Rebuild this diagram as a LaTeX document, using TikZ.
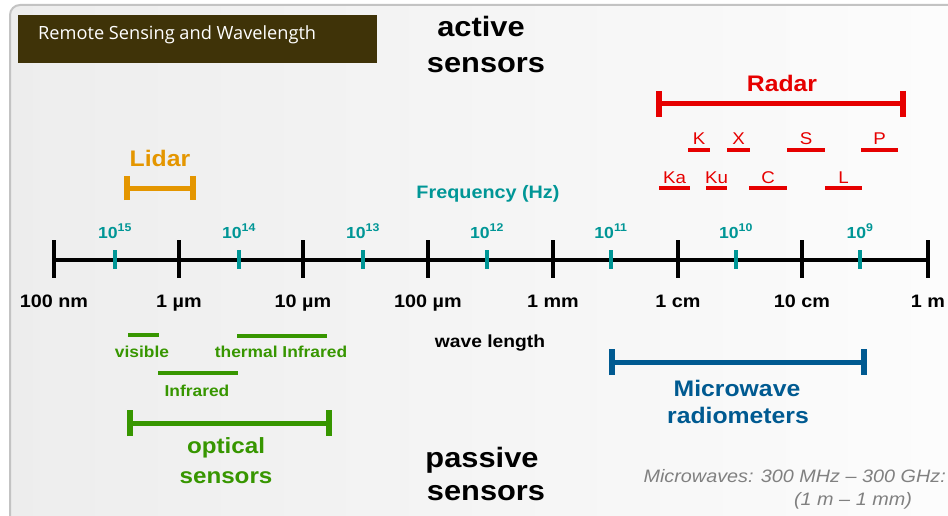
\documentclass[tikz,border=0pt]{standalone}
\usepackage{fontspec}
\setmainfont{Liberation Sans}[FakeStretch=1.1]
\newfontfamily\titlefont{Open Sans}
\usetikzlibrary{arrows.meta}
\definecolor{radarred}{RGB}{230,0,0}
\definecolor{lidarorange}{RGB}{228,150,0}
\definecolor{freqteal}{RGB}{0,150,150}
\definecolor{optgreen}{RGB}{55,150,0}
\definecolor{mwblue}{RGB}{0,90,145}
\definecolor{titlebrown}{RGB}{63,51,8}
\definecolor{notegray}{RGB}{128,128,128}
\definecolor{framegray}{RGB}{195,195,195}
\newcommand{\setfs}[1]{\fontsize{#1}{#1}\selectfont}

\begin{document}
\begin{tikzpicture}[x=1pt,y=-1pt,
    lbl/.style={anchor=base, inner sep=0pt, font=\bfseries},
    rangebar/.style={line width=5pt, {Bar[width=26pt,line width=6pt]}-{Bar[width=26pt,line width=6pt]}},
    band/.style={line width=3.5pt}]

    \useasboundingbox (0,0) rectangle (948,516);
    \clip (0,0) rectangle (948,516);
    \shade[left color=black!7, right color=black!1, draw=framegray, line width=2pt, rounded corners=10pt]
        (10,5) rectangle (970,540);

    % title
    \fill[titlebrown] (18,15) rectangle (377,63);
    \node[anchor=base west, inner sep=0pt, text=white, font=\titlefont\setfs{18.2}] (title) at (38,40) {Remote Sensing and Wavelength};

    \node[lbl, font=\bfseries\setfs{28}] (active) at (481,37) {active};
    \node[lbl, font=\bfseries\setfs{28}] (activesens) at (486,73) {sensors};
    \node[lbl, font=\bfseries\setfs{28}] (passive) at (482,467) {passive};
    \node[lbl, font=\bfseries\setfs{28}] (passivesens) at (486,500) {sensors};

    % radar
    \coordinate (radarL) at (656,104);
    \coordinate (radarR) at (906,104);
    \draw[rangebar, radarred] (radarL) -- (radarR);
    \node[lbl, radarred, font=\bfseries\setfs{22.5}] (radar) at (782,92) {Radar};
    \foreach \nm/\a/\b/\y in {K/688/710/150, X/727/750/150, S/787/825/150, P/861/898/150,
                             Ka/659/690/188, Ku/706/727/188, C/749/787/188, L/825/862/188} {
        \coordinate (\nm-l) at (\a,\y);
        \coordinate (\nm-r) at (\b,\y);
        \draw[band, radarred] (\nm-l) -- (\nm-r)
            node[midway, yshift=5pt, lbl, radarred, font=\setfs{17}] (\nm-lab) {\nm};
    }

    % lidar
    \coordinate (lidarL) at (124,188);
    \coordinate (lidarR) at (196,188);
    \draw[rangebar, lidarorange, {Bar[width=24pt,line width=6pt]}-{Bar[width=24pt,line width=6pt]}] (lidarL) -- (lidarR);
    \node[lbl, lidarorange, font=\bfseries\setfs{22.5}] (lidar) at (160,167) {Lidar};

    % axis
    \node[lbl, freqteal, font=\bfseries\setfs{18}] (freq) at (488,198) {Frequency (Hz)};
    \foreach \x/\wl [count=\i] in {54/100 nm, 179/1 µm, 303/10 µm, 428/100 µm, 553/1 mm, 678/1 cm, 802/10 cm, 928/1 m} {
        \coordinate (w\i) at (\x,260);
        \draw[line width=4pt] (\x,240) -- (\x,278);
        \node[lbl, font=\bfseries\setfs{18}] (wl\i) at (\x,307) {\wl};
    }
    \draw[line width=3.5pt] (w1) -- (w8);
    \foreach \x/\e [count=\i] in {115/15, 239/14, 363/13, 487/12, 611/11, 736/10, 860/9} {
        \coordinate (f\i) at (\x,260);
        \draw[freqteal, line width=4pt] (\x,250) -- (\x,269);
        \node[lbl, freqteal, font=\bfseries\setfs{16}] (fl\i) at (\x,238) {10\textsuperscript{\e}};
    }
    \node[lbl, font=\bfseries\setfs{17.5}] (wavelen) at (490,347) {wave length};

    % optical
    \coordinate (visL) at (128,335);
    \coordinate (visR) at (159,335);
    \coordinate (thL) at (237,336);
    \coordinate (thR) at (327,336);
    \coordinate (irL) at (158,373);
    \coordinate (irR) at (238,373);
    \draw[band, optgreen] (visL) -- (visR);
    \draw[band, optgreen] (thL) -- (thR);
    \draw[band, optgreen] (irL) -- (irR);
    \node[lbl, optgreen, font=\bfseries\setfs{15.8}] (visible) at (142,357) {visible};
    \node[lbl, optgreen, font=\bfseries\setfs{15.8}] (thermal) at (281,357) {thermal Infrared};
    \node[lbl, optgreen, font=\bfseries\setfs{15.8}] (infrared) at (197,396) {Infrared};
    \coordinate (optL) at (127,423);
    \coordinate (optR) at (332,423);
    \draw[rangebar, optgreen] (optL) -- (optR);
    \node[lbl, optgreen, font=\bfseries\setfs{22}] (optical) at (226,453) {optical};
    \node[lbl, optgreen, font=\bfseries\setfs{22}] (opticalsens) at (226,483) {sensors};

    % microwave
    \coordinate (mwL) at (609,362);
    \coordinate (mwR) at (867,362);
    \draw[rangebar, mwblue] (mwL) -- (mwR);
    \node[lbl, mwblue, font=\bfseries\setfs{22.5}] (mw) at (737,396) {Microwave};
    \node[lbl, mwblue, font=\bfseries\setfs{22.5}] (mwrad) at (738,423) {radiometers};

    \node[anchor=base east, inner sep=0pt, notegray, font=\itshape\setfs{18}] (mwnote) at (946,482) {Microwaves: 300 MHz – 300 GHz:};
    \node[lbl, notegray, font=\itshape\setfs{18}] (mwnote2) at (853,505) {(1 m – 1 mm)};

\end{tikzpicture}
\end{document}
